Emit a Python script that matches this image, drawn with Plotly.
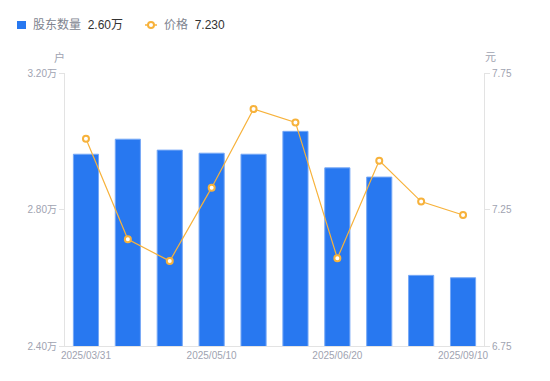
import plotly.graph_objects as go

dates = ["2025/03/31", "2025/04/10", "2025/04/20", "2025/05/10", "2025/05/20",
         "2025/05/31", "2025/06/20", "2025/06/30", "2025/08/31", "2025/09/10"]
holders = [2.962, 3.006, 2.974, 2.965, 2.962, 3.029, 2.922, 2.895, 2.607, 2.600]  # 万户
price = [7.509, 7.141, 7.061, 7.330, 7.618, 7.569, 7.071, 7.429, 7.279, 7.230]
x_tick_idx = [0, 3, 6, 9]
left_ticks = [2.40, 2.80, 3.20]
left_ticklabels = ["2.40万", "2.80万", "3.20万"]
right_ticks = [6.75, 7.25, 7.75]
right_ticklabels = ["6.75", "7.25", "7.75"]

OFF = 8  # page body margin
W, H = 550 - OFF, 381 - OFF
# target window pixel positions of plot area
L_PX, R_PX, T_PX, B_PX = 65, 484, 73, 346
ML, MT = L_PX - OFF, T_PX - OFF
MR, MB = W - (R_PX - OFF), H - (B_PX - OFF)
PW, PH = R_PX - L_PX, B_PX - T_PX

def px(x):
    return (x - L_PX) / PW

def py(y):
    return (B_PX - y) / PH

BLUE = "#2878F0"
ORANGE = "#F7B23B"
TICK = "#A0A3B1"
AXIS = "#E3E3E3"
FONT = "Liberation Sans, Noto Sans CJK SC, sans-serif"

fig = go.Figure()
fig.add_trace(go.Bar(
    x=dates, y=holders, name="股东数量",
    marker=dict(color=BLUE, line=dict(color="#76A8F6", width=1)),
    showlegend=False, yaxis="y",
))
fig.add_trace(go.Scatter(
    x=dates, y=price, name="价格", mode="lines+markers",
    line=dict(color=ORANGE, width=1.2),
    marker=dict(symbol="circle", size=6, color="white",
                line=dict(color=ORANGE, width=2)),
    showlegend=False, yaxis="y2",
))

fig.update_layout(
    width=W, height=H,
    margin=dict(l=ML, r=MR, t=MT, b=MB, pad=0),
    paper_bgcolor="white", plot_bgcolor="white",
    font=dict(family=FONT, size=10, color=TICK),
    bargap=0.4,
    xaxis=dict(
        type="category",
        tickmode="array",
        tickvals=[dates[i] for i in x_tick_idx],
        ticktext=[dates[i] for i in x_tick_idx],
        showgrid=False, zeroline=False,
        showline=True, linecolor=AXIS, linewidth=1,
        ticks="", tickfont=dict(size=10, color=TICK),
        range=[-0.5, len(dates) - 0.5],
    ),
    yaxis=dict(
        range=[2.40, 3.20],
        tickmode="array", tickvals=left_ticks, ticktext=left_ticklabels,
        showgrid=False, zeroline=False,
        showline=True, linecolor=AXIS, linewidth=1,
        ticks="outside", ticklen=5, tickcolor=AXIS,
        tickfont=dict(size=10, color=TICK),
    ),
    yaxis2=dict(
        range=[6.75, 7.75], overlaying="y", side="right",
        tickmode="array", tickvals=right_ticks, ticktext=right_ticklabels,
        showgrid=False, zeroline=False,
        showline=True, linecolor=AXIS, linewidth=1,
        ticks="outside", ticklen=5, tickcolor=AXIS,
        tickfont=dict(size=10, color=TICK),
    ),
)

# unit labels
fig.add_annotation(x=px(59), y=py(57), xref="paper", yref="paper", text="户",
                   xanchor="center", yanchor="middle",
                   showarrow=False, font=dict(size=11, color=TICK))
fig.add_annotation(x=px(490), y=py(57), xref="paper", yref="paper", text="元",
                   xanchor="center", yanchor="middle",
                   showarrow=False, font=dict(size=11, color=TICK))

# custom legend
fig.add_shape(type="rect", xref="paper", yref="paper",
              x0=px(17), x1=px(26), y0=py(21), y1=py(29),
              fillcolor=BLUE, line=dict(width=0))
fig.add_annotation(x=px(31), y=py(25), xref="paper", yref="paper",
                   xanchor="left", yanchor="middle", showarrow=False,
                   text="股东数量&nbsp;&nbsp;<span style='color:#333333'>%.2f万</span>" % holders[-1],
                   font=dict(size=12, color="#80848F"))
fig.add_shape(type="line", xref="paper", yref="paper",
              x0=px(145), x1=px(157), y0=py(25), y1=py(25),
              line=dict(color=ORANGE, width=1.5))
fig.add_shape(type="circle", xref="paper", yref="paper",
              x0=px(148), x1=px(154), y0=py(22), y1=py(28),
              fillcolor="white", line=dict(color=ORANGE, width=2))
fig.add_annotation(x=px(162), y=py(25), xref="paper", yref="paper",
                   xanchor="left", yanchor="middle", showarrow=False,
                   text="价格&nbsp;&nbsp;<span style='color:#333333'>%.3f</span>" % price[-1],
                   font=dict(size=12, color="#80848F"))

fig.write_html("out.html")
